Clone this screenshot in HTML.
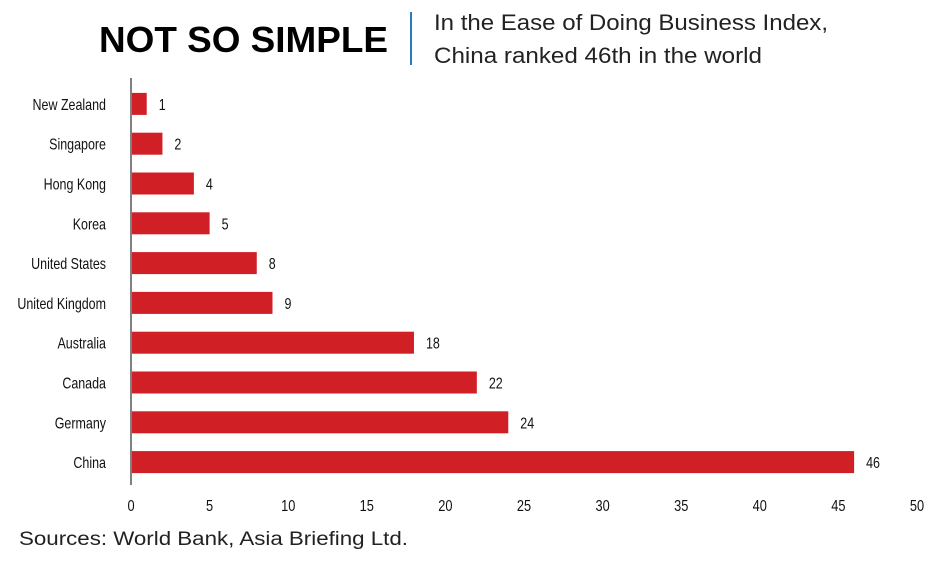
<!DOCTYPE html>
<html><head><meta charset="utf-8"><style>
body{margin:0;background:#fff;width:940px;height:557px;overflow:hidden;font-family:"Liberation Sans",sans-serif}
</style></head><body>
<svg width="940" height="557" xmlns="http://www.w3.org/2000/svg">
<text x="99" y="52" font-family="Liberation Sans" font-weight="bold" font-size="36" textLength="289" lengthAdjust="spacingAndGlyphs" fill="#000">NOT SO SIMPLE</text>
<line x1="411" y1="12" x2="411" y2="65" stroke="#2a7bbf" stroke-width="2"/>
<text x="434" y="30" font-size="22" fill="#222" textLength="394" lengthAdjust="spacingAndGlyphs">In the Ease of Doing Business Index,</text>
<text x="434" y="63" font-size="22" fill="#222" textLength="328" lengthAdjust="spacingAndGlyphs">China ranked 46th in the world</text>
<g id="plot"></g>
<text x="19" y="545" font-size="19" fill="#222" textLength="389" lengthAdjust="spacingAndGlyphs">Sources: World Bank, Asia Briefing Ltd.</text>
</svg>
<script>
const categories=["New Zealand","Singapore","Hong Kong","Korea","United States","United Kingdom","Australia","Canada","Germany","China"];
const values=[1,2,4,5,8,9,18,22,24,46];
const ticks=[0,5,10,15,20,25,30,35,40,45,50];
const NS="http://www.w3.org/2000/svg";
const g=document.getElementById('plot');
const x0=131,x1=917,xMax=50;
const x=v=>x0+(x1-x0)*v/xMax;
const yTop=84,step=39.8,bh=22;
const y=i=>yTop+step*i+step/2;
function mk(t,a){const e=document.createElementNS(NS,t);for(const k in a)e.setAttribute(k,a[k]);g.appendChild(e);return e;}
const ax=mk('line',{x1:x0,y1:78,x2:x0,y2:485,stroke:'#000','stroke-width':1});


categories.forEach((c,i)=>{
 const r=mk('rect',{x:x0+1,y:y(i)-bh/2,width:x(values[i])-x0-1,height:bh,fill:'#d01f25'});
 
 
 const l=mk('text',{x:106,y:y(i)+6,'text-anchor':'end','font-size':16,fill:'#111',transform:`translate(106 0) scale(0.78 1) translate(-106 0)`});
 l.textContent=c;
 
 
 const vx=x(values[i])+12;
 const v=mk('text',{x:vx,y:y(i)+6,'font-size':16,fill:'#111',transform:`translate(${vx} 0) scale(0.78 1) translate(${-vx} 0)`});
 v.textContent=values[i];
 
 
});
ticks.forEach(t=>{
 const tx=mk('text',{x:x(t),y:511,'text-anchor':'middle','font-size':16,fill:'#111',transform:`translate(${x(t)} 0) scale(0.8 1) translate(${-x(t)} 0)`});
 tx.textContent=t;
 
 
});
</script>
</body></html>
